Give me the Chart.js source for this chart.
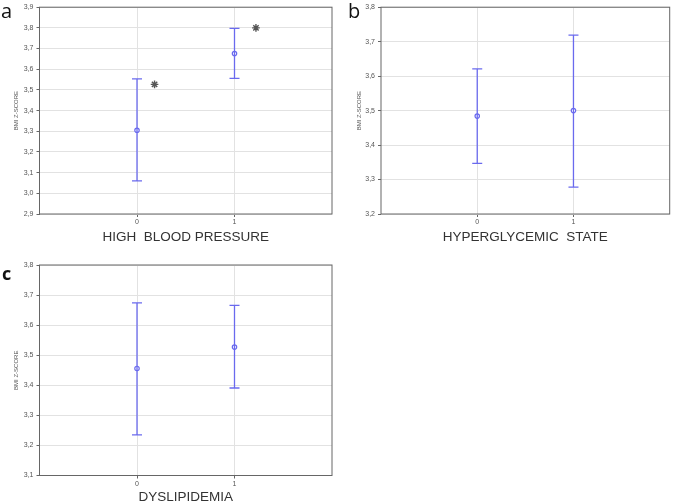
<!DOCTYPE html>
<html>
<head>
<meta charset="utf-8">
<script src="https://cdn.jsdelivr.net/npm/chart.js@4/dist/chart.umd.min.js"></script>
<style>
  body { margin: 0; width: 676px; height: 502px; overflow: hidden; background: #fff; position: relative; }
  canvas { position: absolute; }
  .tag { position: absolute; font-family: "Open Sans", "Liberation Sans", sans-serif; font-size: 20px; line-height: 20px; color: #111; }
</style>
</head>
<body>
<canvas id="chartA" style="left:0;top:0" width="340" height="250"></canvas>
<canvas id="chartB" style="left:336px;top:0" width="340" height="250"></canvas>
<canvas id="chartC" style="left:0;top:250px" width="340" height="262"></canvas>
<div class="tag" style="left:1px;top:1px">a</div>
<div class="tag" style="left:348px;top:1px">b</div>
<div class="tag" style="left:2px;top:263px;font-weight:bold;font-size:18px">c</div>
<script>
const groups = [0, 1];

// a - high blood pressure
const bpMean = [3.305, 3.676];
const bpLow = [3.060, 3.556];
const bpHigh = [3.553, 3.798];
const bpStarX = [0.18, 1.22];
const bpStarY = [3.527, 3.800];
const bpTicks = [2.9, 3.0, 3.1, 3.2, 3.3, 3.4, 3.5, 3.6, 3.7, 3.8, 3.9];

// b - hyperglycemic state
const hgMean = [3.484, 3.500];
const hgLow = [3.347, 3.278];
const hgHigh = [3.621, 3.719];
const hgTicks = [3.2, 3.3, 3.4, 3.5, 3.6, 3.7, 3.8];

// c - dyslipidemia
const dlMean = [3.456, 3.527];
const dlLow = [3.235, 3.391];
const dlHigh = [3.674, 3.666];
const dlTicks = [3.1, 3.2, 3.3, 3.4, 3.5, 3.6, 3.7, 3.8];

const blue = "#6a6aee";
const sans = "'Liberation Sans', Arial, sans-serif";

// plot frame drawn around the chart area
const framePlugin = {
  id: "frame",
  beforeDatasetsDraw(chart) {
    const { ctx, chartArea: a } = chart;
    ctx.save();
    ctx.strokeStyle = "#666";
    ctx.lineWidth = 1;
    ctx.strokeRect(a.left, a.top, a.right - a.left, a.bottom - a.top);
    ctx.restore();
  }
};

function makeChart(id, p) {
  const datasets = [];
  groups.forEach((g, i) => {
    datasets.push({
      data: [{ x: g, y: p.low[i] }, { x: g, y: p.high[i] }],
      showLine: true, borderColor: blue, borderWidth: 1.3, pointRadius: 0
    });
  });
  datasets.push({
    data: groups.flatMap((g, i) => [{ x: g, y: p.low[i] }, { x: g, y: p.high[i] }]),
    pointStyle: "line", pointRadius: 5, borderColor: blue, pointBorderWidth: 1.3
  });
  datasets.push({
    data: groups.map((g, i) => ({ x: g, y: p.mean[i] })),
    pointStyle: "circle", pointRadius: 2.2, borderColor: blue, backgroundColor: "#fff", pointBorderWidth: 1.2
  });
  if (p.starX) {
    datasets.push({
      data: p.starX.map((x, i) => ({ x: x, y: p.starY[i] })),
      pointStyle: "star", pointRadius: 3.8, borderColor: "#555", pointBorderWidth: 1.4
    });
  }

  new Chart(document.getElementById(id), {
    type: "scatter",
    data: { datasets },
    plugins: [framePlugin],
    options: {
      responsive: false,
      animation: false,
      events: [],
      layout: { padding: { left: 0, right: p.padRight, top: p.padTop, bottom: 0 } },
      plugins: { legend: { display: false }, tooltip: { enabled: false } },
      scales: {
        x: {
          type: "linear", min: -1, max: 2,
          afterBuildTicks: s => { s.ticks = groups.map(v => ({ value: v })); },
          afterFit: s => { s.height = p.xHeight; },
          border: { display: false },
          grid: { color: "#e2e2e2", tickLength: 3, tickColor: "#666" },
          ticks: { font: { size: 7, family: sans }, color: "#555", padding: 1 },
          title: {
            display: true, text: p.title, color: "#333",
            font: { size: 13.5, family: sans },
            padding: { top: 0, bottom: p.titlePad }
          }
        },
        y: {
          min: p.ticks[0], max: p.ticks[p.ticks.length - 1],
          afterBuildTicks: s => { s.ticks = p.ticks.map(v => ({ value: v })); },
          afterFit: s => { s.width = p.yWidth; },
          border: { display: false },
          grid: { color: "#e2e2e2", tickLength: 3, tickColor: "#666" },
          ticks: {
            autoSkip: false, padding: 3, color: "#555",
            font: { size: 7, family: sans },
            callback: v => v.toFixed(1).replace(".", ",")
          },
          title: {
            display: true, text: "BMI Z-SCORE", color: "#555",
            font: { size: 6, family: sans },
            padding: { top: p.yTitlePad, bottom: 0 }
          }
        }
      }
    }
  });
}

makeChart("chartA", {
  mean: bpMean, low: bpLow, high: bpHigh, ticks: bpTicks,
  starX: bpStarX, starY: bpStarY,
  title: "HIGH  BLOOD PRESSURE",
  padRight: 8, padTop: 4, xHeight: 36, titlePad: 4.9, yWidth: 39.5, yTitlePad: 13
});

makeChart("chartB", {
  mean: hgMean, low: hgLow, high: hgHigh, ticks: hgTicks,
  title: "HYPERGLYCEMIC  STATE",
  padRight: 3, padTop: 4, xHeight: 36, titlePad: 4.9, yWidth: 45, yTitlePad: 19.5
});

makeChart("chartC", {
  mean: dlMean, low: dlLow, high: dlHigh, ticks: dlTicks,
  title: "DYSLIPIDEMIA",
  padRight: 8, padTop: 15, xHeight: 36.5, titlePad: 6.4, yWidth: 39.5, yTitlePad: 13
});
</script>
</body>
</html>
